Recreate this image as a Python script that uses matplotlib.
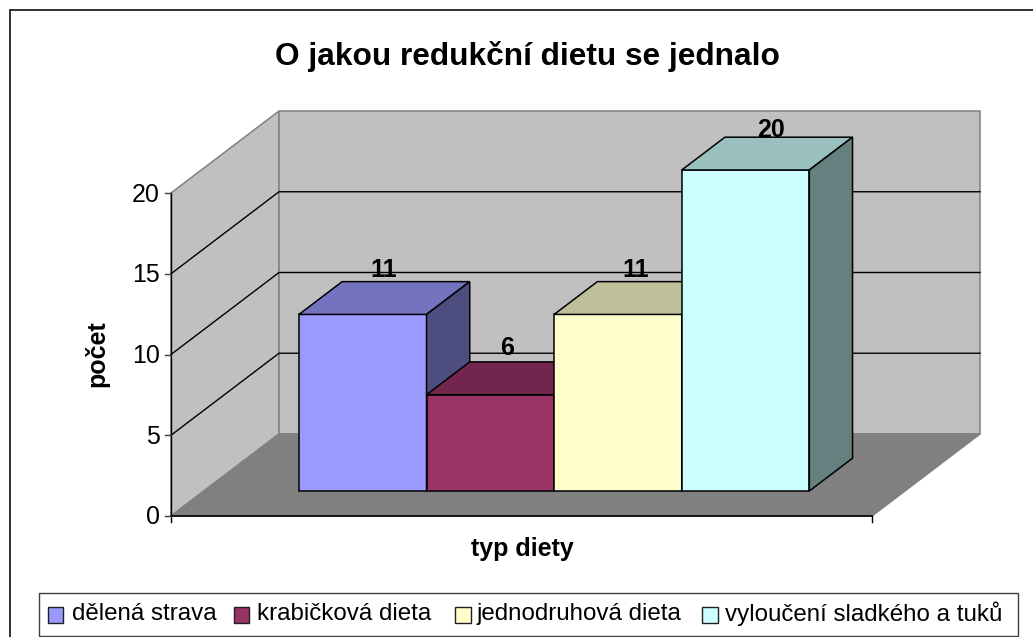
import matplotlib
matplotlib.use('Agg')
import matplotlib.pyplot as plt
from matplotlib.patches import Polygon, Rectangle

plt.rcParams['font.family'] = ['Liberation Sans', 'DejaVu Sans']

# Data
categories = ['dělená strava', 'krabičková dieta', 'jednodruhová dieta', 'vyloučení sladkého a tuků']
values = [11, 6, 11, 20]
y_ticks = [0, 5, 10, 15, 20]

front_colors = ['#9999ff', '#993366', '#ffffcc', '#ccffff']
top_colors = ['#7373bf', '#73264d', '#bfbf99', '#99bfbf']
side_colors = ['#4d4d80', '#4d1933', '#808066', '#668080']

# Chart geometry in pixels
X0, Y0 = 171, 516       # front left corner of the floor
PLOT_W = 701
UNIT_H = 16.15          # pixels per count on the walls
BAR_UNIT_H = 16.05      # bars come out slightly shorter than the walls
LABEL_UNIT_H = 15.57    # labels climb a bit slower again
DEPTH_X, DEPTH_Y = 108, 82
BAR_W = 127.6
BAR_Z0, BAR_Z1 = 0.305, 0.705   # bar start/end as a share of the depth
BARS_LEFT = 95
LABEL_DX = [-1, -5, -4, 4]


def project(x, value, depth, unit=UNIT_H):
    """x in pixels from the left, value in counts, depth 0 (front) to 1 (back)"""
    return (X0 + x + DEPTH_X * depth, Y0 - value * unit - DEPTH_Y * depth)


fig = plt.figure(figsize=(10.33, 6.37), dpi=100)
ax = fig.add_axes([0, 0, 1, 1])
ax.set_xlim(0, 1033)
ax.set_ylim(637, 0)
ax.axis('off')


def face(points, color, edge='black', lw=1.1, z=2):
    ax.add_patch(Polygon(points, closed=True, facecolor=color, edgecolor=edge, linewidth=lw, zorder=z, joinstyle='miter'))


# outer frame, runs off the right and bottom of the picture
ax.add_patch(Rectangle((9.5, 10), 1040, 650, facecolor='white', edgecolor='#202020', linewidth=1.3, zorder=0))

ymax = y_ticks[-1]
# walls and floor
face([project(0, 0, 0), project(0, ymax, 0), project(0, ymax, 1), project(0, 0, 1)], '#c0c0c0', edge='#808080')
face([project(0, 0, 1), project(0, ymax, 1), project(PLOT_W, ymax, 1), project(PLOT_W, 0, 1)], '#c0c0c0', edge='#808080')
face([project(0, 0, 0), project(0, 0, 1), project(PLOT_W, 0, 1), project(PLOT_W, 0, 0)], '#808080', edge='#808080')

# gridlines, the top one is just the grey wall edge
for t in y_ticks[1:-1]:
    pts = [project(0, t, 0), project(0, t, 1), project(PLOT_W, t, 1)]
    ax.plot([p[0] for p in pts], [p[1] for p in pts], color='black', lw=1.0, zorder=3)

# axis lines and ticks
ax.plot([X0, X0], [project(0, ymax, 0)[1], Y0 + 6], color='black', lw=1.0, zorder=3)
ax.plot([X0, X0 + PLOT_W], [Y0, Y0], color='black', lw=1.2, zorder=3)
ax.plot([X0 + PLOT_W, X0 + PLOT_W], [Y0, Y0 + 6], color='black', lw=1.0, zorder=3)
for t in y_ticks:
    px, py = project(0, t, 0)
    ax.plot([px - 6, px], [py, py], color='#404040', lw=1.0, zorder=3)
    ax.text(px - 11, py + 1.5, str(t), ha='right', va='center', fontsize=18, zorder=5)

# bars, left to right so later bars cover earlier side faces
for i, v in enumerate(values):
    xl = BARS_LEFT + i * BAR_W
    xr = xl + BAR_W
    z = 4 + i * 0.1
    u = BAR_UNIT_H
    face([project(xl, 0, BAR_Z0, u), project(xl, v, BAR_Z0, u), project(xr, v, BAR_Z0, u), project(xr, 0, BAR_Z0, u)], front_colors[i], z=z)
    face([project(xl, v, BAR_Z0, u), project(xl, v, BAR_Z1, u), project(xr, v, BAR_Z1, u), project(xr, v, BAR_Z0, u)], top_colors[i], z=z)
    face([project(xr, 0, BAR_Z0, u), project(xr, 0, BAR_Z1, u), project(xr, v, BAR_Z1, u), project(xr, v, BAR_Z0, u)], side_colors[i], z=z)
    lx, ly = project((xl + xr) / 2, v, (BAR_Z0 + BAR_Z1) / 2, LABEL_UNIT_H)
    ax.text(lx + LABEL_DX[i], ly - 33.5, str(v), ha='center', va='center', fontsize=18, fontweight='bold', zorder=6)

# titles
ax.text(527, 56, 'O jakou redukční dietu se jednalo', ha='center', va='center', fontsize=22.8, fontweight='bold')
ax.text(522, 549, 'typ diety', ha='center', va='center', fontsize=18, fontweight='bold')
ax.text(97, 354, 'počet', ha='center', va='center', rotation=90, fontsize=18, fontweight='bold')

# legend
ax.add_patch(Rectangle((38.5, 592.5), 979, 43, facecolor='white', edgecolor='#404040', linewidth=1.0, zorder=2))
swatch_x = [47.5, 233.5, 455, 702]
text_x = [72, 257, 477, 725]
for sx, tx, name, c in zip(swatch_x, text_x, categories, front_colors):
    ax.add_patch(Rectangle((sx, 607), 15.5, 15.5, facecolor=c, edgecolor='#202020', linewidth=1.0, zorder=3))
    ax.text(tx, 614, name, ha='left', va='center', fontsize=17.4, zorder=3)

fig.savefig('out.png', dpi=100)
